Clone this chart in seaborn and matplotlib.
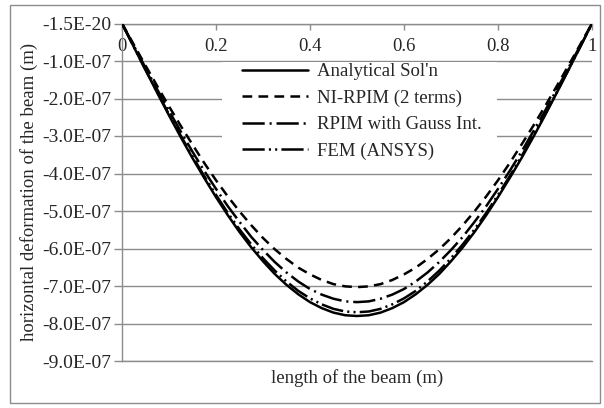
import matplotlib
matplotlib.use("Agg")
import matplotlib.pyplot as plt
from matplotlib.patches import Rectangle
import seaborn as sns
import pandas as pd

# ---- data ----
x_pos = [0.0, 0.025, 0.05, 0.075, 0.1, 0.125, 0.15, 0.175, 0.2, 0.225, 0.25, 0.275, 0.3, 0.325,
         0.35, 0.375, 0.4, 0.425, 0.45, 0.475, 0.5,
         0.525, 0.55, 0.575, 0.6, 0.625, 0.65, 0.675, 0.7, 0.725, 0.75, 0.775, 0.8, 0.825,
         0.85, 0.875, 0.9, 0.925, 0.95, 0.975, 1.0]
analytical = [0, -0.62e-7, -1.24e-7, -1.85e-7, -2.45e-7, -3.03e-7, -3.59e-7, -4.12e-7, -4.63e-7, -5.11e-7,
              -5.56e-7, -5.97e-7, -6.34e-7, -6.68e-7, -6.97e-7, -7.22e-7, -7.43e-7, -7.59e-7, -7.71e-7, -7.78e-7,
              -7.80e-7,
              -7.78e-7, -7.71e-7, -7.59e-7, -7.43e-7, -7.22e-7, -6.97e-7, -6.68e-7, -6.34e-7, -5.97e-7,
              -5.56e-7, -5.11e-7, -4.63e-7, -4.12e-7, -3.59e-7, -3.03e-7, -2.45e-7, -1.85e-7, -1.24e-7, -0.62e-7, 0]
ni_rpim = [0, -0.56e-7, -1.12e-7, -1.67e-7, -2.21e-7, -2.73e-7, -3.23e-7, -3.72e-7, -4.18e-7, -4.61e-7,
           -5.01e-7, -5.38e-7, -5.72e-7, -6.02e-7, -6.28e-7, -6.51e-7, -6.69e-7, -6.84e-7, -6.95e-7, -7.01e-7,
           -7.03e-7,
           -7.01e-7, -6.95e-7, -6.84e-7, -6.69e-7, -6.51e-7, -6.28e-7, -6.02e-7, -5.72e-7, -5.38e-7,
           -5.01e-7, -4.61e-7, -4.18e-7, -3.72e-7, -3.23e-7, -2.73e-7, -2.21e-7, -1.67e-7, -1.12e-7, -0.56e-7, 0]
rpim_gauss = [0, -0.59e-7, -1.18e-7, -1.76e-7, -2.33e-7, -2.88e-7, -3.42e-7, -3.93e-7, -4.41e-7, -4.87e-7,
              -5.29e-7, -5.69e-7, -6.04e-7, -6.36e-7, -6.64e-7, -6.88e-7, -7.08e-7, -7.23e-7, -7.34e-7, -7.41e-7,
              -7.43e-7,
              -7.41e-7, -7.34e-7, -7.23e-7, -7.08e-7, -6.88e-7, -6.64e-7, -6.36e-7, -6.04e-7, -5.69e-7,
              -5.29e-7, -4.87e-7, -4.41e-7, -3.93e-7, -3.42e-7, -2.88e-7, -2.33e-7, -1.76e-7, -1.18e-7, -0.59e-7, 0]
fem = [0, -0.62e-7, -1.23e-7, -1.83e-7, -2.42e-7, -2.99e-7, -3.54e-7, -4.07e-7, -4.57e-7, -5.05e-7,
       -5.49e-7, -5.89e-7, -6.26e-7, -6.59e-7, -6.88e-7, -7.13e-7, -7.33e-7, -7.49e-7, -7.61e-7, -7.68e-7,
       -7.70e-7,
       -7.68e-7, -7.61e-7, -7.49e-7, -7.33e-7, -7.13e-7, -6.88e-7, -6.59e-7, -6.26e-7, -5.89e-7,
       -5.49e-7, -5.05e-7, -4.57e-7, -4.07e-7, -3.54e-7, -2.99e-7, -2.42e-7, -1.83e-7, -1.23e-7, -0.62e-7, 0]
series_names = ["Analytical Sol'n", "NI-RPIM (2 terms)", "RPIM with Gauss Int.", "FEM (ANSYS)"]
x_ticks = [0, 0.2, 0.4, 0.6, 0.8, 1.0]
x_tick_labels = ["0", "0.2", "0.4", "0.6", "0.8", "1"]
y_ticks = [0, -1e-7, -2e-7, -3e-7, -4e-7, -5e-7, -6e-7, -7e-7, -8e-7, -9e-7]
y_tick_labels = ["-1.5E-20", "-1.0E-07", "-2.0E-07", "-3.0E-07", "-4.0E-07",
                 "-5.0E-07", "-6.0E-07", "-7.0E-07", "-8.0E-07", "-9.0E-07"]
x_label = "length of the beam (m)"
y_label = "horizontal deformation of the beam (m)"

# ---- style ----
sns.set_style("white")
plt.rcParams['font.family'] = ['Liberation Serif', 'DejaVu Serif']
plt.rcParams['lines.scale_dashes'] = False
FS = 13.5
GRID = "#8c8c8c"

df = pd.concat([
    pd.DataFrame({"x": x_pos, "y": vals, "series": name})
    for name, vals in zip(series_names, [analytical, ni_rpim, rpim_gauss, fem])
], ignore_index=True)

dash_map = {
    series_names[0]: "",
    series_names[1]: (7.0, 4.5),
    series_names[2]: (16, 3.5, 1.5, 3.5),
    series_names[3]: (16, 3, 1.5, 3, 1.5, 3),
}

fig = plt.figure(figsize=(6.04, 4.08), dpi=100)
ax = fig.add_axes([122/604, 1-361/408, 470/604, 337.5/408])

sns.lineplot(data=df, x="x", y="y", style="series", dashes=dash_map,
             color="black", linewidth=1.8, estimator=None, sort=False,
             legend=False, ax=ax, zorder=3)
for ln in ax.get_lines():
    ln.set_dash_capstyle("butt")
    ln.set_solid_joinstyle("round")

ax.set_xlim(0, 1)
ax.set_ylim(-9e-7, 0)
ax.set_yticks(y_ticks)
ax.set_yticklabels(y_tick_labels, fontsize=14)
ax.set_xticks(x_ticks)
ax.set_xticklabels(x_tick_labels, fontsize=FS)
ax.tick_params(axis='x', top=True, labeltop=True, bottom=False, labelbottom=False,
               direction='in', length=4, width=1.0, color=GRID, pad=-23)
ax.tick_params(axis='y', left=True, direction='out', length=6, width=1.0, color=GRID, pad=1.5)

ax.yaxis.grid(True, color=GRID, linewidth=1.0, zorder=0)
ax.xaxis.grid(False)
ax.set_axisbelow(True)
for side in ["left", "top", "bottom"]:
    ax.spines[side].set_color(GRID)
    ax.spines[side].set_linewidth(1.0)
ax.spines["right"].set_visible(False)

ax.xaxis.set_label_position('bottom')
ax.set_xlabel(x_label, fontsize=FS, labelpad=6)
ax.set_ylabel(y_label, fontsize=FS, labelpad=3)

# legend background (white box hiding gridlines)
ax.add_patch(Rectangle(((222-122)/470, (361-168)/337.5), (497-222)/470, (168-62)/337.5,
                       transform=ax.transAxes, facecolor="white", edgecolor="none", zorder=1.5))
handles = ax.get_lines()[:4]
leg = ax.legend(handles, series_names, loc="upper left",
                bbox_to_anchor=((242-122)/470, (361-63)/337.5),
                frameon=False, fontsize=FS, handlelength=3.5, handletextpad=0.5,
                labelspacing=0.5, borderpad=0, borderaxespad=0)
leg.set_zorder(4)

# figure border
fig.patches.append(Rectangle((10/604, 5/408), 590/604, 398/408, transform=fig.transFigure,
                             facecolor="none", edgecolor=GRID, linewidth=1.0))

fig.savefig("out.png", dpi=100)
